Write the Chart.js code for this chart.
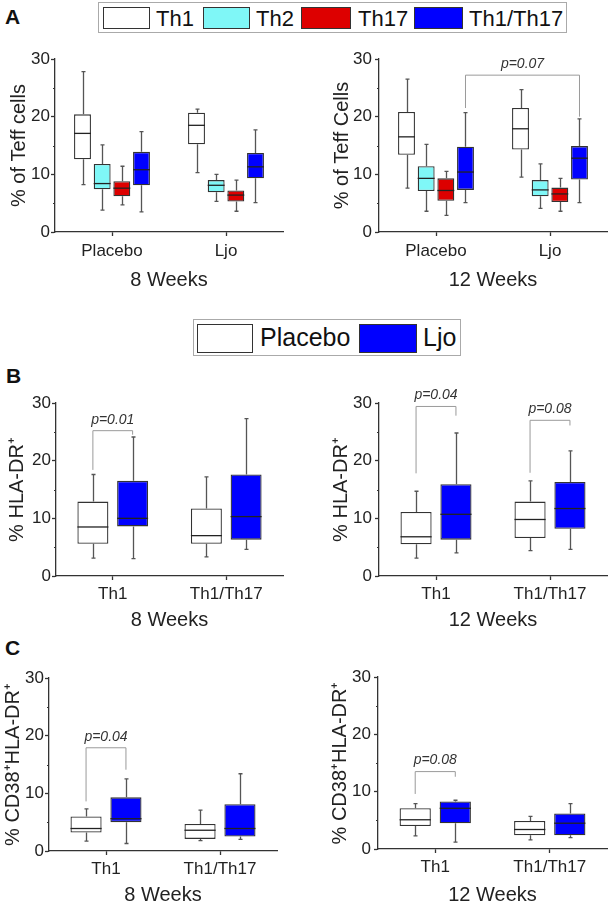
<!DOCTYPE html>
<html>
<head>
<meta charset="utf-8">
<script src="https://cdn.jsdelivr.net/npm/chart.js@4.4.1/dist/chart.umd.min.js"></script>
<style>
body { margin: 0; background: #fff; font-family: "Liberation Sans", Arial, sans-serif; }
#page { position: relative; width: 609px; height: 907px; overflow: hidden; }
canvas { position: absolute; }
.lbl { position: absolute; font-weight: bold; font-size: 21px; color: #111; line-height: 1; }
.legend { position: absolute; border: 1px solid #aaa; box-sizing: border-box; background: #fff; }
.sw { position: absolute; box-sizing: border-box; border: 1.5px solid #333; }
.lt { position: absolute; color: #111; line-height: 1; white-space: nowrap; }
</style>
</head>
<body>
<div id="page">
  <div class="lbl" style="left:5px;top:6px;">A</div>
  <div class="lbl" style="left:6px;top:365px;">B</div>
  <div class="lbl" style="left:5px;top:637px;">C</div>

  <div class="legend" style="left:98px;top:2px;width:469px;height:31px;">
    <div class="sw" style="left:4px;top:4px;width:47px;height:22px;background:#fff;"></div>
    <div class="lt" style="left:57px;top:5px;font-size:22px;">Th1</div>
    <div class="sw" style="left:104px;top:4px;width:47px;height:22px;background:#7ff7f7;"></div>
    <div class="lt" style="left:157px;top:5px;font-size:22px;">Th2</div>
    <div class="sw" style="left:202px;top:4px;width:50px;height:22px;background:#dd0000;"></div>
    <div class="lt" style="left:259px;top:5px;font-size:22px;">Th17</div>
    <div class="sw" style="left:315px;top:4px;width:49px;height:22px;background:#0000ff;"></div>
    <div class="lt" style="left:370px;top:5px;font-size:22px;">Th1/Th17</div>
  </div>

  <div class="legend" style="left:193px;top:319px;width:268px;height:37px;">
    <div class="sw" style="left:3px;top:4px;width:56px;height:29px;background:#fff;"></div>
    <div class="lt" style="left:66px;top:5px;font-size:25px;">Placebo</div>
    <div class="sw" style="left:165px;top:4px;width:58px;height:29px;background:#0000ff;"></div>
    <div class="lt" style="left:229px;top:5px;font-size:25px;">Ljo</div>
  </div>

  <canvas id="a8" width="300" height="256" style="left:0;top:40px;"></canvas>
  <canvas id="a12" width="309" height="256" style="left:300px;top:40px;"></canvas>
  <canvas id="b8" width="300" height="256" style="left:0;top:380px;"></canvas>
  <canvas id="b12" width="309" height="256" style="left:300px;top:380px;"></canvas>
  <canvas id="c8" width="300" height="252" style="left:0;top:655px;"></canvas>
  <canvas id="c12" width="309" height="252" style="left:300px;top:655px;"></canvas>
</div>

<script>
// each box: [min, q1, median, q3, max], one entry per category
var groupsA = ['Placebo', 'Ljo'];
var cellTypes = ['Th1', 'Th2', 'Th17', 'Th1/Th17'];
var a8Th1 = [[8.2, 12.6, 17.1, 20.4, 27.8], [10.3, 15.2, 18.5, 20.7, 21.3]];
var a8Th2 = [[3.8, 7.4, 8.4, 11.8, 15.1], [5.3, 6.9, 8.1, 9.0, 10.0]];
var a8Th17 = [[4.7, 6.2, 7.6, 8.8, 11.4], [3.6, 5.3, 6.4, 7.2, 9.0]];
var a8Th1Th17 = [[3.5, 8.1, 10.8, 13.9, 17.4], [5.1, 9.3, 11.3, 13.7, 17.7]];
var a12Th1 = [[7.6, 13.4, 16.5, 20.8, 26.5], [9.5, 14.3, 17.9, 21.5, 24.7]];
var a12Th2 = [[3.6, 7.1, 9.3, 11.4, 15.2], [4.1, 6.2, 7.3, 9.0, 11.8]];
var a12Th17 = [[2.9, 5.4, 7.2, 9.3, 10.5], [3.6, 5.2, 6.6, 7.7, 9.3]];
var a12Th1Th17 = [[5.1, 7.3, 10.4, 14.8, 20.7], [5.1, 9.1, 12.8, 14.9, 19.6]];

var subsets = ['Th1', 'Th1/Th17'];
var arms = ['Placebo', 'Ljo'];
var b8Placebo = [[3.1, 5.6, 8.5, 12.9, 17.6], [3.3, 5.6, 7.0, 11.7, 17.2]];
var b8Ljo = [[3.0, 8.6, 10.0, 16.5, 24.1], [4.6, 6.3, 10.3, 17.6, 27.3]];
var b12Placebo = [[3.1, 5.5, 6.8, 11.1, 14.7], [4.4, 6.6, 9.8, 12.9, 16.5]];
var b12Ljo = [[4.0, 6.3, 10.7, 15.9, 24.8], [4.6, 8.2, 11.7, 16.3, 21.7]];
var c8Placebo = [[1.7, 3.2, 3.9, 6.0, 7.3], [1.8, 2.1, 3.6, 4.7, 7.1]];
var c8Ljo = [[1.3, 5.0, 5.6, 9.3, 12.5], [2.0, 2.5, 3.9, 8.1, 13.4]];
var c12Placebo = [[2.3, 4.0, 5.1, 7.1, 7.9], [1.6, 2.4, 3.4, 4.9, 5.7]];
var c12Ljo = [[1.2, 4.5, 7.1, 8.3, 8.5], [2.0, 2.4, 4.5, 6.2, 7.9]];

// brackets: [category from, series from, category to, series to, bar value, left leg end, right leg end, text]
var a12Brackets = [[0, 3, 1, 3, 27.2, 21.5, 20.0, 'p=0.07']];
var b8Brackets = [[0, 0, 0, 1, 25.2, 18.4, 24.5, 'p=0.01']];
var b12Brackets = [[0, 0, 0, 1, 29.4, 17.8, 27.8, 'p=0.04'], [1, 0, 1, 1, 27.0, 17.9, 26.1, 'p=0.08']];
var c8Brackets = [[0, 0, 0, 1, 17.9, 8.6, 14.1, 'p=0.04']];
var c12Brackets = [[0, 0, 0, 1, 13.5, 9.6, 12.6, 'p=0.08']];

var minorTicks = [5, 15, 25];

var FONT = '"Liberation Sans", Arial, sans-serif';
var typeColors = ['#ffffff', '#7ff7f7', '#dd0000', '#0000ff'];
var armColors = ['#ffffff', '#0000ff'];

function boxPlugin(brackets) {
    return {
        id: 'boxPlot',
        afterDatasetsDraw: function (chart) {
            var ctx = chart.ctx;
            var y = chart.scales.y;
            ctx.save();
            chart.data.datasets.forEach(function (ds, di) {
                chart.getDatasetMeta(di).data.forEach(function (bar, i) {
                    var s = ds.stats[i];
                    var x = Math.round(bar.x) + 0.5;
                    ctx.strokeStyle = '#555';
                    ctx.lineWidth = 1.3;
                    ctx.beginPath();
                    ctx.moveTo(x, y.getPixelForValue(s[3]));
                    ctx.lineTo(x, y.getPixelForValue(s[4]));
                    ctx.moveTo(x, y.getPixelForValue(s[1]));
                    ctx.lineTo(x, y.getPixelForValue(s[0]));
                    ctx.moveTo(x - 2, y.getPixelForValue(s[4]));
                    ctx.lineTo(x + 2, y.getPixelForValue(s[4]));
                    ctx.moveTo(x - 2, y.getPixelForValue(s[0]));
                    ctx.lineTo(x + 2, y.getPixelForValue(s[0]));
                    ctx.stroke();
                    var hw = bar.width / 2;
                    ctx.strokeStyle = '#222';
                    ctx.beginPath();
                    ctx.moveTo(bar.x - hw, y.getPixelForValue(s[2]));
                    ctx.lineTo(bar.x + hw, y.getPixelForValue(s[2]));
                    ctx.stroke();
                });
            });
            ctx.restore();
        },
        afterDraw: function (chart) {
            var ctx = chart.ctx;
            var y = chart.scales.y;
            ctx.save();
            // minor ticks
            ctx.strokeStyle = '#333';
            ctx.lineWidth = 1;
            ctx.beginPath();
            minorTicks.forEach(function (v) {
                var py = Math.round(y.getPixelForValue(v)) + 0.5;
                ctx.moveTo(chart.chartArea.left - 2, py);
                ctx.lineTo(chart.chartArea.left, py);
            });
            ctx.stroke();
            // significance brackets
            brackets.forEach(function (b) {
                var x1 = chart.getDatasetMeta(b[1]).data[b[0]].x;
                var x2 = chart.getDatasetMeta(b[3]).data[b[2]].x;
                var yb = y.getPixelForValue(b[4]);
                ctx.strokeStyle = '#9a9a9a';
                ctx.lineWidth = 1;
                ctx.beginPath();
                ctx.moveTo(x1, y.getPixelForValue(b[5]));
                ctx.lineTo(x1, yb);
                ctx.lineTo(x2, yb);
                ctx.lineTo(x2, y.getPixelForValue(b[6]));
                ctx.stroke();
                ctx.fillStyle = '#333';
                ctx.font = 'italic 14px ' + FONT;
                ctx.textAlign = 'center';
                ctx.textBaseline = 'middle';
                ctx.fillText(b[7], (x1 + x2) / 2, yb - 11);
            });
            ctx.restore();
        }
    };
}

function makePanel(id, p) {
    var datasets = p.sets.map(function (s, k) {
        return {
            label: p.names[k],
            stats: s,
            data: s.map(function (v) { return [v[1], v[3]]; }),
            backgroundColor: p.colors[k],
            borderColor: '#333',
            borderWidth: 1.3,
            borderSkipped: false,
            barPercentage: p.barPct,
            categoryPercentage: p.catPct
        };
    });
    new Chart(document.getElementById(id), {
        type: 'bar',
        data: { labels: p.labels, datasets: datasets },
        options: {
            responsive: false,
            animation: false,
            layout: { padding: { top: p.padTop, right: p.padRight, left: 0, bottom: 0 } },
            plugins: { legend: { display: false }, tooltip: { enabled: false } },
            scales: {
                x: {
                    grid: { drawOnChartArea: false, offset: false, tickLength: 4, color: '#333', tickWidth: 1.3 },
                    border: { color: '#333', width: 1.3 },
                    ticks: { font: { family: FONT, size: 17 }, color: '#222', padding: p.tickPad, maxRotation: 0, autoSkip: false },
                    title: { display: true, text: p.xTitle, font: { family: FONT, size: 20 }, color: '#222', padding: { top: 0, bottom: p.xTitlePad } },
                    afterFit: function (s) { s.height = p.xH; }
                },
                y: {
                    min: 0,
                    max: 30,
                    grid: { drawOnChartArea: false, tickLength: 4, color: '#333', tickWidth: 1.3 },
                    border: { color: '#333', width: 1.3 },
                    ticks: { stepSize: 10, font: { family: FONT, size: 17 }, color: '#222', padding: p.yTickPad },
                    title: { display: true, text: p.yTitle, font: { family: FONT, size: 20 }, color: '#222', padding: { top: p.yTitlePad, bottom: 0 } },
                    afterFit: function (s) { s.width = p.yW; }
                }
            }
        },
        plugins: [boxPlugin(p.brackets)]
    });
}

makePanel('a8', {
    labels: groupsA, names: cellTypes, colors: typeColors,
    sets: [a8Th1, a8Th2, a8Th17, a8Th1Th17], brackets: [],
    yTitle: '% of Teff cells', xTitle: '8 Weeks',
    yW: 55, xH: 64, padTop: 19, padRight: 17, tickPad: 5, xTitlePad: 4, yTitlePad: 7, yTickPad: 1,
    barPct: 0.86, catPct: 0.69
});
makePanel('a12', {
    labels: groupsA, names: cellTypes, colors: typeColors,
    sets: [a12Th1, a12Th2, a12Th17, a12Th1Th17], brackets: a12Brackets,
    yTitle: '% of Teff Cells', xTitle: '12 Weeks',
    yW: 79, xH: 64, padTop: 19, padRight: 2, tickPad: 5, xTitlePad: 4, yTitlePad: 30, yTickPad: 3,
    barPct: 0.86, catPct: 0.69
});
makePanel('b8', {
    labels: subsets, names: arms, colors: armColors,
    sets: [b8Placebo, b8Ljo], brackets: b8Brackets,
    yTitle: '% HLA-DR\u207A', xTitle: '8 Weeks',
    yW: 56, xH: 60, padTop: 23, padRight: 17, tickPad: 4, xTitlePad: 4, yTitlePad: 5, yTickPad: 1,
    barPct: 0.78, catPct: 0.70
});
makePanel('b12', {
    labels: subsets, names: arms, colors: armColors,
    sets: [b12Placebo, b12Ljo], brackets: b12Brackets,
    yTitle: '% HLA-DR\u207A', xTitle: '12 Weeks',
    yW: 79, xH: 60, padTop: 23, padRight: 2, tickPad: 4, xTitlePad: 4, yTitlePad: 29, yTickPad: 3,
    barPct: 0.78, catPct: 0.70
});
makePanel('c8', {
    labels: subsets, names: arms, colors: armColors,
    sets: [c8Placebo, c8Ljo], brackets: c8Brackets,
    yTitle: '% CD38\u207AHLA-DR\u207A', xTitle: '8 Weeks',
    yW: 49, xH: 56, padTop: 23, padRight: 23, tickPad: 4, xTitlePad: 0, yTitlePad: 1, yTickPad: 1,
    barPct: 0.78, catPct: 0.70
});
makePanel('c12', {
    labels: subsets, names: arms, colors: armColors,
    sets: [c12Placebo, c12Ljo], brackets: c12Brackets,
    yTitle: '% CD38\u207AHLA-DR\u207A', xTitle: '12 Weeks',
    yW: 78, xH: 58, padTop: 22, padRight: 2, tickPad: 4, xTitlePad: 0, yTitlePad: 28, yTickPad: 3,
    barPct: 0.78, catPct: 0.70
});
</script>
</body>
</html>
